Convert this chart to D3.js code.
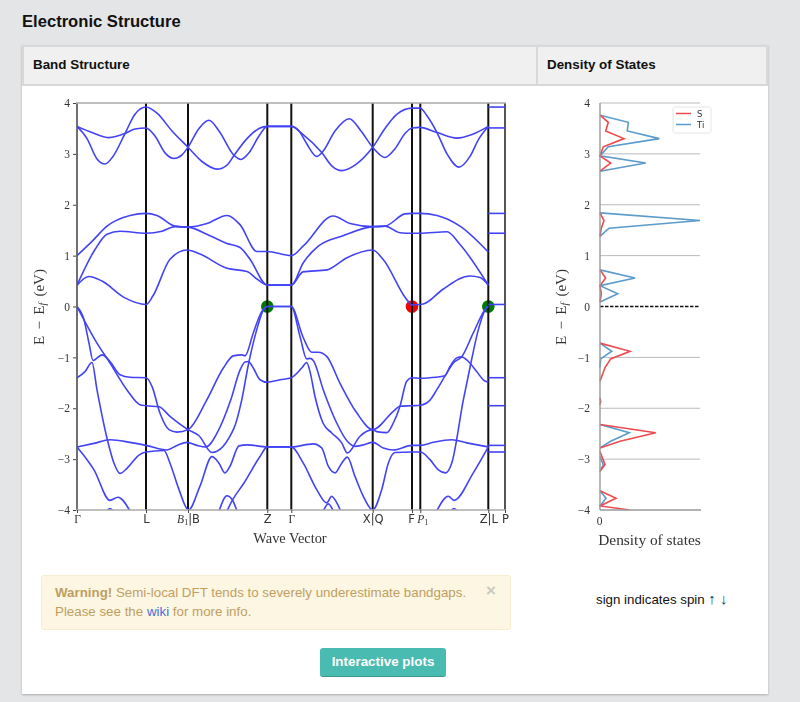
<!DOCTYPE html>
<html>
<head>
<meta charset="utf-8">
<title>Electronic Structure</title>
<script src="https://cdn.jsdelivr.net/npm/d3@7"></script>
<style>
  html, body { margin: 0; padding: 0; width: 800px; height: 702px; overflow: hidden; background: #e4e5e6; font-family: "Liberation Sans", Arial, sans-serif; }
  .abs { position: absolute; }
  #title { left: 22px; top: 12px; font-size: 16.6px; font-weight: bold; color: #111; }
  #panel { left: 22px; top: 45px; width: 746px; height: 649px; background: #fff; box-shadow: 0 1px 2px #aaa; }
  #head { left: 22px; top: 45px; width: 742px; height: 37px; background: #f0f0f0; border: 2px solid #d8d8d8; }
  #divider { left: 536px; top: 45px; width: 2px; height: 40px; background: #d8d8d8; }
  .htxt { font-size: 13.4px; font-weight: bold; color: #111; top: 57px; }
  #warn { left: 41px; top: 575px; width: 468px; height: 53px; background: #fcf6e2; border: 1px solid #f8edcf; border-radius: 3px; }
  #warntxt { left: 55px; top: 583px; width: 430px; font-size: 13.33px; line-height: 19px; color: #c09f63; white-space: nowrap; }
  #warntxt a { color: #4a6fd8; text-decoration: none; }
  #close { left: 486px; top: 581px; font-size: 17px; font-weight: bold; color: #c9c9c0; }
  #spin { left: 596px; top: 590px; font-size: 13.3px; color: #111; white-space: nowrap; }
  #spin span { color: #0a3d5c; font-size: 15px; }
  #btn { left: 320px; top: 648px; width: 126px; height: 29px; line-height: 28px; text-align: center; background: #4abbb0; border-bottom: 1px solid #3a9a90; border-radius: 3px; color: #fff; font-size: 13.4px; font-weight: bold; box-sizing: border-box; }
  svg { position: absolute; left: 0; top: 0; filter: blur(0.35px); }
</style>
</head>
<body>
<div id="title" class="abs">Electronic Structure</div>
<div id="panel" class="abs"></div>
<div id="head" class="abs"></div>
<div id="divider" class="abs"></div>
<div class="abs htxt" style="left:33px">Band Structure</div>
<div class="abs htxt" style="left:547px">Density of States</div>
<div id="chart"></div>
<div id="warn" class="abs"></div>
<div id="warntxt" class="abs"><b>Warning!</b> Semi-local DFT tends to severely underestimate bandgaps.<br>Please see the <a href="#">wiki</a> for more info.</div>
<div id="close" class="abs">×</div>
<div id="spin" class="abs">sign indicates spin <span>↑ ↓</span></div>
<div id="btn" class="abs">Interactive plots</div>

<script>
"use strict";

// k-path positions and labels
var kTicks = [0, 69, 111, 190.3, 214.3, 295.7, 335, 343.3, 411.3, 428];
var kLabels = ["Γ", "L", "B_1|B", "Z", "Γ", "X|Q", "F", "P_1", "Z|L", "P"];
var energyTicks = [-4, -3, -2, -1, 0, 1, 2, 3, 4];

// bands, [k, E]
var bandUp1 = [[0,3.54],[10,3.3],[20,2.9],[28,2.8],[36,2.95],[48,3.4],[58,3.78],[69,3.92],[80,3.8],[95,3.45],[111,3.13],[125,2.85],[140,2.7],[150,2.78],[157,2.97],[170,3.3],[182,3.5],[190.3,3.54],[214.3,3.54],[225,3.4],[245,3.02],[255,2.76],[264.7,2.67],[278,2.78],[295.7,3.13],[308,3.5],[320,3.78],[335,3.9],[343,3.9],[350,3.75],[360,3.42],[370,3.0],[382,2.74],[393,2.95],[402,3.3],[411.3,3.54]];
var bandUp2 = [[0,3.54],[15,3.42],[32,3.32],[48,3.4],[58,3.49],[69,3.51],[78,3.35],[88,3.02],[97,2.91],[105,2.98],[111,3.13],[122,3.5],[132,3.66],[142,3.45],[157,2.97],[164,2.89],[172,3.02],[182,3.35],[190.3,3.54],[214.3,3.54],[222,3.45],[229.7,3.2],[239.7,2.95],[246,3.05],[258,3.45],[272.3,3.69],[284,3.45],[295.7,3.13],[308,2.93],[318,3.1],[328,3.4],[335,3.51],[343,3.52],[360,3.42],[380,3.31],[395,3.38],[411.3,3.54]];
var bandMid1 = [[0,1.0],[15,1.28],[30,1.58],[53,1.79],[69,1.83],[80,1.79],[98,1.58],[111,1.56],[130,1.63],[150,1.79],[163,1.61],[180,1.08],[190.3,1.08],[214.3,1.0],[226.3,1.19],[256.3,1.78],[273,1.63],[295.7,1.57],[308,1.58],[328,1.82],[335,1.83],[343,1.83],[360,1.79],[383,1.58],[411.3,1.07]];
var bandMid2 = [[0,0.42],[18,1.12],[30,1.42],[43,1.48],[69,1.44],[85,1.48],[98,1.57],[111,1.56],[133,1.39],[150,1.24],[163,1.16],[173,0.93],[190.3,0.42],[214.3,0.42],[226.3,0.86],[241,1.18],[266,1.39],[295.7,1.57],[308,1.58],[323,1.45],[335,1.44],[343,1.44],[370,1.47],[383,1.22],[411.3,0.42]];
var bandMid3 = [[0,0.42],[12,0.59],[25,0.5],[47,0.18],[69,0.04],[76,0.21],[93,0.93],[110,1.11],[123,1.03],[150,0.75],[170,0.69],[180,0.54],[190.3,0.42],[214.3,0.42],[226,0.68],[250,0.72],[270,0.96],[295.7,1.11],[306,0.93],[330,0.13],[335,0.03],[346.3,0.05],[366,0.34],[393,0.6],[403,0.57],[411.3,0.42]];
var bandVal1 = [[0,0],[7,-0.26],[12,-0.72],[16,-1.06],[25,-0.95],[33,-1.08],[43,-1.34],[53,-1.39],[69,-1.4],[75,-1.57],[83,-2.1],[92,-2.42],[100,-2.47],[111,-2.42],[129.7,-1.84],[146.3,-1.21],[156.3,-0.97],[164.7,-0.95],[168,-0.97],[176.3,-0.52],[184.7,-0.1],[190.3,0],[214.3,0],[223,-0.59],[229.7,-1.03],[233,-1.02],[236.3,-1.06],[246.3,-1.64],[259.7,-2.29],[270.3,-2.65],[278,-2.75],[286.3,-2.72],[295.7,-2.67],[306.3,-2.78],[316.3,-2.82],[335,-2.73],[343.3,-2.73],[356.3,-2.67],[374.7,-2.62],[389.7,-2.68],[411.3,-2.76]];
var bandVal2 = [[0,0],[20,-0.72],[33,-1.11],[50,-1.64],[63,-1.93],[69,-1.95],[82,-1.97],[93,-2.16],[111,-2.42],[122,-2.54],[135,-2.87],[157,-2.39],[164.7,-1.84],[171.3,-1.15],[179.7,-0.46],[186.3,-0.07],[190.3,0],[214.3,0],[226,-0.6],[234.7,-0.9],[241.3,-0.9],[249.7,-0.98],[263,-1.51],[279.7,-2.09],[295.7,-2.42],[316.3,-2.06],[323,-1.96],[335,-1.95],[343.3,-1.94],[353,-1.84],[359.7,-1.64],[369.7,-1.31],[376.3,-1.11],[384.7,-0.99],[396.3,-0.52],[409.7,-0.02],[411.3,0]];
var bandVal3 = [[0,-1.4],[8,-1.28],[15,-1.1],[20,-1.64],[30,-2.59],[37,-3.08],[43,-3.28],[50,-3.18],[62,-2.92],[69,-2.86],[87,-2.83],[93,-3.08],[102,-3.6],[111.5,-4],[123,-3.53],[135,-2.95],[142,-3.08],[148,-3.27],[153,-3.14],[162,-2.74],[170,-2.72],[190.3,-2.76],[214.3,-2.76],[236.3,-2.7],[244.7,-2.78],[251.3,-3.14],[258,-3.27],[264.7,-3.08],[270.3,-2.96],[278,-3.34],[286.3,-3.73],[295.7,-4],[304.7,-3.6],[311.3,-3.08],[318,-2.87],[335,-2.86],[343.3,-2.86],[353,-3.01],[361.3,-3.21],[368.7,-3.27],[374.7,-3.08],[386.3,-1.84],[393.7,-1.13],[401.3,-0.46],[409.7,-0.02],[411.3,0]];
var bandVal4 = [[0,-2.76],[17,-2.69],[33,-2.62],[53,-2.67],[69,-2.73],[90,-2.82],[100,-2.73],[110,-2.67],[120,-2.73],[129,-2.76],[140,-2.49],[153.7,-1.84],[163,-1.25],[168,-1.09],[171.3,-1.08],[176.3,-1.21],[183,-1.44],[190.3,-1.49],[203,-1.44],[214.3,-1.4],[224.7,-1.21],[229.7,-1.1],[233,-1.28],[238,-1.77],[246,-2.29],[255,-2.49],[264.7,-2.68],[270.3,-2.88],[283,-2.55],[295.7,-2.42],[299.7,-2.46],[309.7,-2.48],[316.3,-2.29],[323,-1.96],[329.7,-1.47],[335,-1.4],[343.3,-1.41],[353,-1.4],[368,-1.36],[373,-1.18],[379.7,-1.01],[384.7,-0.99],[389.7,-1.05],[393.7,-1.13],[399.7,-1.28],[406.3,-1.44],[411.3,-1.49]];
var bandDeep1 = [[0,-2.76],[17,-3.21],[33,-3.81],[41,-3.75],[53,-4.02]];
var bandDeep2 = [[150,-4.02],[155,-3.82],[167,-3.47],[183,-2.95],[190.3,-2.76],[214.3,-2.76],[226.3,-3.08],[239.7,-3.6],[249.7,-3.86],[254.7,-3.73],[258,-3.8],[263.7,-4.02]];
var bandDeep3 = [[142,-4.02],[150,-3.72],[155,-3.79],[160,-4.02]];
var bandDeep4 = [[246.3,-4.02],[251.3,-3.88],[256.3,-4.02]];
var bandDeep5 = [[359.7,-4.02],[371.3,-3.73],[377,-3.81],[396.3,-3.27],[411.3,-2.76]];
var bandDeep6 = [[30,-4.02],[33,-3.97],[36,-4.02]];
var bandDeep7 = [[374,-4.02],[377,-3.97],[380,-4.02]];
// last L-P stretch is flat
var lpEnergies = [3.92, 3.51, 1.83, 1.44, 0.04, -1.4, -1.95, -2.73, -2.86];
var lpK = [411.3, 428];

// band edge markers
var vbmPoints = [[190.3, 0], [411.3, 0]];
var cbmPoints = [[335, 0]];

// density of states, [value, E]
var dosS = [[0,3.76],[0.083,3.62],[0.057,3.45],[0.24,3.30],[0.033,3.14],[0,2.96],[0.107,2.82],[0,2.66],null,[0,1.84],[0.04,1.69],[0.013,1.54],[0,1.38],null,[0,0.72],[0.057,0.56],[0,0.41],[0.013,0.25],[0,0.09],null,[0,-0.72],[0.3,-0.88],[0.107,-1.03],[0.05,-1.2],[0,-1.47],null,[0,-1.8],[0.007,-1.87],[0,-1.93],null,[0,-2.32],[0.557,-2.48],[0.2,-2.65],[0,-2.78],null,[0,-2.85],[0.05,-3.11],[0,-3.24],null,[0,-3.62],[0.16,-3.77],[0,-3.92],[0.3,-4.0]];
var dosTi = [[0,3.76],[0.283,3.62],[0.273,3.45],[0.593,3.30],[0.083,3.14],[0,2.96],[0.457,2.82],[0,2.66],null,[0,1.84],[1,1.69],[0.09,1.54],[0,1.38],null,[0,0.72],[0.35,0.56],[0,0.41],[0.177,0.25],[0,0.09],null,[0,-0.72],[0.117,-0.88],[0.007,-1.03],[0,-1.2],null,[0,-2.32],[0.293,-2.48],[0.107,-2.65],[0,-2.78],null,[0,-2.95],[0.033,-3.11],[0,-3.24],null,[0,-3.62],[0.06,-3.77],[0,-3.92]];
var dosNames = ["S", "Ti"];

var bands = [bandUp1, bandUp2, bandMid1, bandMid2, bandMid3, bandVal1, bandVal2, bandVal3, bandVal4, bandDeep1, bandDeep2, bandDeep3, bandDeep4, bandDeep5, bandDeep6, bandDeep7];

var serif = '"Liberation Serif", serif';
var bandColor = "#4343f6";
var svg = d3.select("#chart").append("svg").attr("width", 800).attr("height", 702);

var x = d3.scaleLinear().domain([0, 428]).range([77, 505]);
var y = d3.scaleLinear().domain([-4, 4]).range([510, 103]);

var minus = function(d) { return String(d).replace("-", "\u2212"); };

function clip(id, x0, x1) {
  svg.append("clipPath").attr("id", id).append("rect")
    .attr("x", x0).attr("y", 103).attr("width", x1 - x0).attr("height", 407);
}
clip("bandClip", 77, 505);
clip("dosClip", 599, 701);

// == band structure ==
var band = svg.append("g");

// markers go under the bands
band.selectAll("circle.vbm").data(vbmPoints).enter().append("circle")
  .attr("cx", function(d) { return x(d[0]); }).attr("cy", function(d) { return y(d[1]); })
  .attr("r", 6.3).attr("fill", "#007a00");
band.selectAll("circle.cbm").data(cbmPoints).enter().append("circle")
  .attr("cx", function(d) { return x(d[0]); }).attr("cy", function(d) { return y(d[1]); })
  .attr("r", 6.3).attr("fill", "#f00000");

// vertical lines
band.selectAll("line.k").data(kTicks).enter().append("line")
  .attr("x1", function(d) { return x(d); }).attr("x2", function(d) { return x(d); })
  .attr("y1", y(4)).attr("y2", y(-4))
  .attr("stroke", function(d, i) { return i == 9 ? "#555" : "#111"; })
  .attr("stroke-width", function(d, i) { return i == 0 ? 1.2 : 2; });

var bandLine = d3.line()
  .x(function(d) { return x(d[0]); })
  .y(function(d) { return y(d[1]); })
  .curve(d3.curveMonotoneX);

var bandsG = band.append("g").attr("clip-path", "url(#bandClip)");
bandsG.selectAll("path.b").data(bands).enter().append("path")
  .attr("d", bandLine).attr("fill", "none")
  .attr("stroke", bandColor).attr("stroke-width", 1.6);
bandsG.selectAll("path.lp").data(lpEnergies).enter().append("path")
  .attr("d", function(e) { return bandLine(lpK.map(function(k) { return [k, e]; })); })
  .attr("fill", "none").attr("stroke", bandColor).attr("stroke-width", 1.6);

// top and bottom spines
[4, -4].forEach(function(e) {
  band.append("line").attr("x1", 76).attr("x2", 506).attr("y1", y(e)).attr("y2", y(e))
    .attr("stroke", "#aaa").attr("stroke-width", 1.6);
});

function styleAxis(g) {
  g.select(".domain").remove();
  g.selectAll("line").attr("stroke", "#444");
  g.selectAll("text").attr("fill", "#333");
}

band.append("g").attr("transform", "translate(76,0)")
  .call(d3.axisLeft(y).tickValues(energyTicks).tickFormat(minus).tickSize(3).tickPadding(3))
  .call(styleAxis)
  .selectAll("text").style("font-family", serif).style("font-size", "11.5px");

var xAxis = band.append("g").attr("transform", "translate(0,510)")
  .call(d3.axisBottom(x).tickValues(kTicks).tickFormat(function(d, i) { return kLabels[i]; }).tickSize(3).tickPadding(2))
  .call(styleAxis);
xAxis.selectAll("text")
  .style("font-family", '"DejaVu Sans", sans-serif').style("font-size", "11.5px")
  .each(function(d, i) {
    var t = d3.select(this), label = kLabels[i];
    if (label == "Γ") t.style("font-family", serif);
    if (label.indexOf("_1") < 0) return;
    var parts = label.split("_1");
    t.text(null);
    t.append("tspan").text(parts[0]).style("font-family", serif).style("font-style", "italic");
    t.append("tspan").text("1").attr("dy", 2).style("font-family", serif).style("font-size", "8px");
    if (parts[1]) t.append("tspan").text(parts[1]).attr("dy", -2);
  });
// F and P1 sit close together, nudge them apart
xAxis.selectAll("text").filter(function(d, i) { return i == 6; }).attr("dx", -1);
xAxis.selectAll("text").filter(function(d, i) { return i == 7; }).attr("dx", 2);

band.append("text").attr("x", 290).attr("y", 543).attr("text-anchor", "middle")
  .style("font-family", serif).style("font-size", "14.4px").attr("fill", "#333").text("Wave Vector");
band.append("text").attr("transform", "translate(44,307) rotate(-90)").attr("text-anchor", "middle")
  .style("font-family", serif).style("font-size", "15px").style("word-spacing", "2.5px").attr("fill", "#333")
  .html('E \u2212 E<tspan dy="2" font-size="10" font-style="italic">f</tspan><tspan dy="-2"> (eV)</tspan>');

// == density of states ==
var dosX = d3.scaleLinear().domain([0, 1]).range([600, 700]);
var dos = svg.append("g");

dos.selectAll("line.grid").data(energyTicks.filter(function(d) { return d != 0 && Math.abs(d) != 4; }))
  .enter().append("line")
  .attr("x1", dosX(0)).attr("x2", dosX(1)).attr("y1", function(d) { return y(d); }).attr("y2", function(d) { return y(d); })
  .attr("stroke", "#bbb").attr("stroke-width", 1);
dos.append("line").attr("x1", dosX(0)).attr("x2", dosX(1)).attr("y1", y(4)).attr("y2", y(4))
  .attr("stroke", "#bbb").attr("stroke-width", 1);
dos.append("line").attr("x1", dosX(0)).attr("x2", dosX(1)).attr("y1", y(0)).attr("y2", y(0))
  .attr("stroke", "#111").attr("stroke-width", 1.6).attr("stroke-dasharray", "3.5,1.5");

var dosLine = d3.line()
  .defined(function(d) { return d != null; })
  .x(function(d) { return dosX(d[0]); })
  .y(function(d) { return y(d[1]); });

var dosColors = ["#ee4a50", "#5b9bcb"];
var dosG = dos.append("g").attr("clip-path", "url(#dosClip)");
dosG.selectAll("path").data([dosTi, dosS]).enter().append("path")
  .attr("d", dosLine).attr("fill", "none")
  .attr("stroke", function(d, i) { return dosColors[1 - i]; }).attr("stroke-width", 1.6);

dos.append("line").attr("x1", dosX(0)).attr("x2", dosX(0)).attr("y1", y(4)).attr("y2", y(-4))
  .attr("stroke", "#999").attr("stroke-width", 1.4);
dos.append("line").attr("x1", dosX(0)).attr("x2", 701).attr("y1", y(-4)).attr("y2", y(-4))
  .attr("stroke", "#999").attr("stroke-width", 1.4);

dos.append("g").attr("transform", "translate(599,0)")
  .call(d3.axisLeft(y).tickValues(energyTicks).tickFormat(minus).tickSize(0).tickPadding(9))
  .call(styleAxis)
  .selectAll("text").style("font-family", serif).style("font-size", "11.5px");

dos.append("g").attr("transform", "translate(0,510)")
  .call(d3.axisBottom(dosX).tickValues([0]).tickFormat(d3.format("d")).tickSize(0).tickPadding(7))
  .call(styleAxis)
  .selectAll("text").attr("dx", -1).style("font-family", serif).style("font-size", "11.5px");

dos.append("text").attr("x", 649.5).attr("y", 545).attr("text-anchor", "middle")
  .style("font-family", serif).style("font-size", "15.4px").attr("fill", "#333").text("Density of states");
dos.append("text").attr("transform", "translate(566,307) rotate(-90)").attr("text-anchor", "middle")
  .style("font-family", serif).style("font-size", "15px").style("word-spacing", "2.5px").attr("fill", "#333")
  .html('E \u2212 E<tspan dy="2" font-size="10" font-style="italic">f</tspan><tspan dy="-2"> (eV)</tspan>');

// legend
var legend = dos.append("g").attr("transform", "translate(673,107)");
legend.append("rect").attr("width", 38).attr("height", 26).attr("rx", 2)
  .attr("fill", "#fff").attr("fill-opacity", 0.9).attr("stroke", "#e6e6e6");
dosNames.forEach(function(name, i) {
  legend.append("line").attr("x1", 3).attr("x2", 18).attr("y1", 6.5 + i * 11).attr("y2", 6.5 + i * 11)
    .attr("stroke", dosColors[i]).attr("stroke-width", 1.5);
  legend.append("text").attr("x", 24).attr("y", 9.5 + i * 11)
    .style("font-family", '"DejaVu Sans", sans-serif').style("font-size", "8.5px").attr("fill", "#333").text(name);
});
</script>
</body>
</html>
